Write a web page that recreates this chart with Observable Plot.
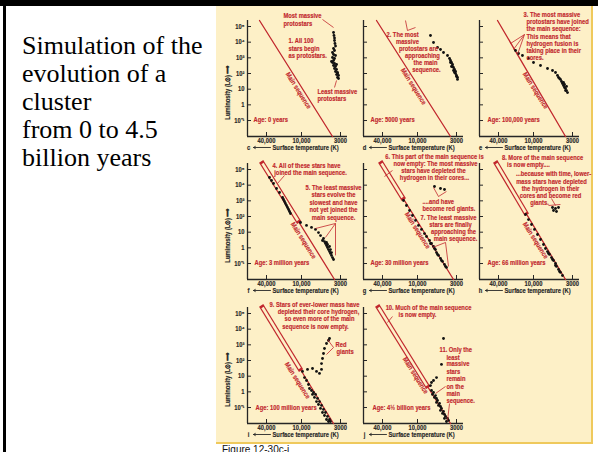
<!DOCTYPE html>
<html>
<head>
<meta charset="utf-8">
<script src="https://cdn.jsdelivr.net/npm/d3@7"></script>
<script src="https://cdn.jsdelivr.net/npm/@observablehq/plot@0.6"></script>
<style>
  html, body { margin: 0; padding: 0; background: #fff; }
  #slide { position: relative; width: 598px; height: 452px; overflow: hidden; background: #fff; }
  #topbar { position: absolute; left: 0; top: 0; width: 598px; height: 6px; background: #000; }
  #leftbar { position: absolute; left: 3px; top: 0; width: 3px; height: 452px; background: #000; }
  #title { position: absolute; left: 22px; top: 32px; font: 26px/28px "Liberation Serif", "Times New Roman", serif; color: #000; white-space: nowrap; }
  #fig { position: absolute; left: 216px; top: 6px; width: 377px; height: 438px; box-sizing: border-box;
         background: #fdf0c7; border-right: 2px solid #efc95c; border-bottom: 2px solid #efc95c; }
  #caption { position: absolute; left: 222px; top: 444px; font: 10px/12px "Liberation Sans", Arial, sans-serif; color: #111; }
  .panel { position: absolute; width: 150px; height: 160px; }
  .panel svg { overflow: visible; }
</style>
</head>
<body>
<div id="slide">
  <div id="topbar"></div>
  <div id="leftbar"></div>
  <div id="title">Simulation of the<br>evolution of a<br>cluster<br>from 0 to 4.5<br>billion years</div>
  <div id="fig"></div>
  <div id="caption">Figure 12-30c-j</div>
</div>
<script>
// ---------- data ----------
const panelLetters = ["c", "d", "e", "f", "g", "h", "i", "j"];
const xTicks = [40000, 10000, 3000];
const xTickLabels = ["40,000", "10,000", "3000"];
const yTicks = [1e5, 1e4, 1e3, 100, 10, 1, 0.1];
const yTickLabels = ["10\u2075", "10\u2074", "10\u00B3", "10\u00B2", "10", "1", "10\u207B\u00B9"];
const xDomain = [85000, 40000, 10000, 3000, 2415];
const lumTop = 241500, lumBottom = 0.00955;

// main-sequence line: temperature at top and bottom of each panel
const msTopT = [52800, 50750, 41600, 46900, 41600, 43400, 46900, 46900];
const msBottomT = [3840, 3610, 3720, 3610, 3290, 3720, 3720, 3610];
// where the empty (outlined) part of the main sequence ends
const bandEnd = [null, null, null, [11530, 55.6], [18100, 1630], [13700, 180], [10700, 31], [7480, 2.5]];
// "Main sequence" label anchor
const msLabel = [[11270, 8.2], [11720, 15], [9400, 8.2], [9400, 2.95], [10000, 12.8], [9400, 2.95], [11720, 5.3], [10830, 11]];

// stars: [surface temperature K, luminosity Lsun]
const starsC = [[3720,41400],[3670,26700],[3610,18500],[3610,12800],[3560,8220],[3500,5700],
  [3720,3950],[3610,2940],[3840,2190],[3720,1630],[3500,1410],[3840,1050],[3610,908],[3720,677],[3840,504],
  [3610,435],[3720,324],[3500,280],[3610,209],[3390,180],[3500,134],[3290,116],[3390,86],[3190,75],[3290,56],
  [3190,48],[3960,584],[3390,376],[3290,100]];
const starsD = [[6700,26700],[6100,9530],[5390,4570],[4920,3410],[4480,2190],[3960,1410],
  [3720,908],[3610,677],[3500,504],[3390,376],[3500,280],[3290,242],[3190,180],[3090,134],[3090,100],[3000,75],
  [2910,56],[2910,42],[3610,504],[3390,280],[3290,156],[3190,116],[3000,64]];
const starsE = [[20400,2940],[18100,1890],[15500,1410],[12200,908],[10000,504],[8060,324],[6490,209],[5560,156],[5070,116],
  [4770,75],[4620,56],[4350,42],[4210,31],[4090,23],[3960,17],[3840,12.8],[3720,11],[3610,8.2],[3500,6.1],
  [3610,15],[3960,27],[4480,48],[3840,20],[3720,8.2]];
const starsF = [[35500,30800],[32800,19900],[30300,12800],[26900,6130],[23900,3410],
  [21200,1630],[20400,1220],[19600,908],[18900,677],[18100,504],[17400,376],[16700,280],[16100,209],[15500,156],
  [10400,41.5],[8570,27],[7340,20],[6490,15],[5920,9.5],[5560,6.1],
  [5230,2.95],[5070,3.95],[4920,2.5],[4770,1.9],[4620,1.4],[4620,2.2],[4480,1.05],[4480,1.64],[4350,0.78],
  [4210,0.58],[4210,1.22],[4090,0.44],[4090,0.78],[3960,0.33],[3960,0.5],[3840,0.24],[3720,0.18]];
const starsG = [[17400,1050],[15500,504],[13700,242],[12200,116],[10800,56],[9700,27],[8840,15],[8060,8.2],[7570,5.3],
  [6900,2.95],[6700,1.9],[6490,1.9],[6100,1.22],[5920,0.91],[5740,0.78],[5560,0.5],[5390,0.38],[5230,0.33],
  [4920,0.21],[4770,0.156],[4620,0.135],[4350,0.087],[4210,0.065],[4090,0.056],
  [5920,8220],[4350,5290],[4920,6130]];
const starsH = [[13700,134],[12200,64],[10800,31],[9700,15],[8840,7.1],[8060,3.4],[7340,1.64],[6900,0.91],
  [6490,0.58],[6290,0.44],[6100,0.38],[5740,0.24],[5560,0.18],[5390,0.156],[5070,0.1],[5070,0.075],[4920,0.065],
  [4620,0.042],[4480,0.031],[4350,0.027],[4090,0.0172],
  [5560,376],[5070,324],[4620,376],[4920,209],[5390,242]];
const starsI = [[9700,20],[8310,27],[7120,31],[6290,20],[5740,15],[5390,27],[5390,64],[5230,134],[5070,280],[4920,584],
  [4620,1220],[4350,1890],[4210,2540],[9120,8.2],[8570,5.3],[8060,2.95],
  [7810,1.64],[7340,1.22],[6900,0.91],[7120,0.68],[6490,0.68],[6700,0.44],[6100,0.38],[6290,0.24],[5740,0.24],
  [5920,0.156],[5390,0.135],[5560,0.087],[5070,0.075],[5230,0.048],[4770,0.048],[4920,0.031],[4480,0.027],
  [4620,0.0172],[4210,0.0172],[4090,0.0128],[4350,0.0128]];
const starsJ = [[4480,2540],[4770,56],[5560,8.2],[6100,5.3],[6490,3.95],[6700,2.5],
  [6490,1.22],[6100,0.91],[6290,0.68],[5740,0.58],[5920,0.44],[5560,0.38],[5390,0.28],[5560,0.21],[5070,0.18],
  [5230,0.135],[4920,0.116],[4770,0.087],[4920,0.065],[4480,0.056],[4620,0.042],[4350,0.036],[4210,0.027],
  [4350,0.02],[3960,0.02],[3840,0.0149],[4090,0.0128]];

// annotations: [text, T, L, anchor]
const notesC = [["Most massive",20400,503500,"start"],["protostars",20400,155400,"start"],
  ["1. All 100",16700,12800,"start"],["stars begin",16700,3950,"start"],["as protostars.",16700,1410,"start"],
  ["Least massive",6100,7.1,"start"],["protostars",6100,2.5,"start"],["Age: 0 years",67000,0.116,"start"]];
const notesD = [["2. The most",18100,30800,"middle"],["massive",14900,11040,"middle"],
  ["protostars are",9700,3950,"middle"],["approaching",8570,1410,"middle"],["the main",7810,504,"middle"],
  ["sequence.",7570,180,"middle"],["Age: 5000 years",64400,0.116,"start"]];
const notesE = [["3. The most massive",14900,583700,"start"],["protostars have joined",13200,208600,"start"],
  ["the main sequence:",13200,74500,"start"],["This means that",13200,23000,"start"],
  ["hydrogen fusion is",13200,8220,"start"],["taking place in their",13200,2940,"start"],
  ["cores.",13200,1050,"start"],["Age: 100,000 years",61850,0.116,"start"]];
const notesF = [["4. All of these stars have",8570,180000,"middle"],["joined the main sequence.",7570,64400,"middle"],
  ["5. The least massive",3720,7100,"middle"],["stars evolve the",3720,2540,"middle"],
  ["slowest and have",3720,783,"middle"],["not yet joined the",3720,280,"middle"],
  ["main sequence.",3720,86,"middle"],["Age: 3 million years",64400,0.116,"start"]];
const notesG = [["6. This part of the main sequence is",5920,676000,"middle"],["now empty: The most massive",5740,241500,"middle"],
  ["stars have depleted the",6100,86300,"middle"],["hydrogen in their cores...",5920,30800,"middle"],
  ["....and have",8570,908,"start"],["become red giants.",8570,324,"start"],
  ["7. The least massive",3840,86,"middle"],["stars are finally",3610,31,"middle"],
  ["approaching the",3290,11,"middle"],["main sequence.",3090,3.95,"middle"],
  ["Age: 30 million years",64400,0.116,"start"]];
const notesH = [["8. More of the main sequence",7570,583700,"middle"],["is now empty....",12200,208600,"middle"],
  ["...because with time, lower-",5390,55500,"middle"],["mass stars have depleted",5740,17100,"middle"],
  ["the hydrogen in their",5920,6130,"middle"],["cores and become red",5920,2190,"middle"],
  ["giants.",8310,783,"middle"],["Age: 66 million years",61850,0.116,"start"]];
const notesI = [["9. Stars of ever-lower mass have",6700,375000,"middle"],["depleted their core hydrogen,",5920,134200,"middle"],
  ["so even more of the main",5740,47960,"middle"],["sequence is now empty.",6490,14800,"middle"],
  ["Red",3500,1050,"start"],["giants",3390,376,"start"],["Age: 100 million years",61850,0.1,"start"]];
const notesJ = [["10. Much of the main sequence",7120,241500,"middle"],["is now empty.",10000,86300,"middle"],
  ["11. Only the",5070,504,"start"],["least",4090,156,"start"],["massive",4090,64,"start"],
  ["stars",4090,20,"start"],["remain",4090,7.1,"start"],["on the",4090,2.2,"start"],
  ["main",4090,0.78,"start"],["sequence.",4090,0.28,"start"],["Age: 4\u00BD billion years",59400,0.1,"start"]];

// pointer lines: [T1, L1, T2, L2]
const ptrC = [[5230,279800,3720,86300],[3390,36,3610,12.8]];
const ptrD = [[14870,55500,16090,241500],[14870,55500,10830,86300]];
const ptrE = [[14290,30800,24880,8220],[14290,30800,22090,3410],[14290,30800,18850,1630]];
const ptrF = [[19620,41400,25880,12800],[3500,36,6490,17.2],[3500,36,4770,4.6],[3500,36,3500,0.33]];
const ptrG = [[26930,86300,36970,35700],[5230,1890,6100,7100],[5230,1890,4090,3950],[4210,2.2,6290,1.05],[4210,2.2,3840,0.065]];
const ptrH = [[5740,1410,5070,504],[6290,504,4350,584]];
const ptrI = [[3720,677,4480,2190],[3720,677,4620,242]];
const ptrJ = [[26930,64400,32830,26660],[4210,2.2,5740,0.78],[3720,0.18,3960,0.0149]];

const allStars = [starsC, starsD, starsE, starsF, starsG, starsH, starsI, starsJ];
const allNotes = [notesC, notesD, notesE, notesF, notesG, notesH, notesI, notesJ];
const allPtrs = [ptrC, ptrD, ptrE, ptrF, ptrG, ptrH, ptrI, ptrJ];

// ---------- layout / style ----------
const FONT = '"Liberation Sans Narrow","Arial Narrow","Liberation Sans",Arial,sans-serif';
const RED = "#c1272d", INK = "#262626", BG = "#fdf0c7";
const SQUEEZE = 0.83; // the figure uses a condensed face
const ML = 34, MR = 16, MT = 22, MB = 22, FW = 100, FH = 116;
const xRange = [ML, ML + 19, ML + 54, ML + 93, ML + FW];
const colLeft = [213, 329, 445], rowTop = [-2, 141, 285];
const tickLabelLum = 0.005, axisLabelLum = 0.0019;
const txt = {fontFamily: FONT, fontWeight: "bold", fontSize: 7, strokeWidth: 0.15};

function condense(svg) {
  svg.querySelectorAll("text").forEach(t => {
    let tr = t.getAttribute("transform");
    if (!tr) {
      const x = t.getAttribute("x"), y = t.getAttribute("y");
      tr = `translate(${x || 0},${y || 0})`;
      t.removeAttribute("x"); t.removeAttribute("y");
    }
    t.setAttribute("transform", tr + ` scale(${SQUEEZE},1)`);
  });
}

function drawPanel(i) {
  const col = i % 3, row = Math.floor(i / 3);
  const inkTxt = {...txt, fill: INK, stroke: INK};
  const redTxt = {...txt, fill: RED, stroke: RED};
  const marks = [
    Plot.ruleX([xDomain[0]], {stroke: INK, strokeWidth: 1.3}),
    Plot.ruleY([lumBottom], {stroke: INK, strokeWidth: 1.3}),
    Plot.tickY(yTicks, {y: d => d, insetRight: FW - 4, stroke: INK}),
    Plot.tickX(xTicks, {x: d => d, insetTop: FH - 4, stroke: INK}),
    Plot.text(xTicks, {x: d => d, y: () => tickLabelLum, text: (d, j) => xTickLabels[j], ...inkTxt}),
    Plot.text([panelLetters[i]], {x: () => 81600, y: () => axisLabelLum, text: d => d, ...inkTxt}),
    Plot.arrow([0], {x1: () => 34160, x2: () => 67000, y1: () => axisLabelLum, y2: () => axisLabelLum,
      stroke: INK, strokeWidth: 0.9, headLength: 3.5}),
    Plot.text(["Surface temperature (K)"], {x: () => 31550, y: () => axisLabelLum, text: d => d,
      textAnchor: "start", ...inkTxt}),
    Plot.line([[msTopT[i], lumTop], [msBottomT[i], lumBottom]], {x: d => d[0], y: d => d[1], stroke: RED, strokeWidth: 1.3})
  ];
  if (bandEnd[i]) {
    const seg = [[msTopT[i], lumTop], bandEnd[i]];
    marks.push(Plot.line(seg, {x: d => d[0], y: d => d[1], stroke: RED, strokeWidth: 5, strokeLinecap: "square"}));
    marks.push(Plot.line(seg, {x: d => d[0], y: d => d[1], stroke: BG, strokeWidth: 2.6, strokeLinecap: "butt"}));
  }
  marks.push(
    Plot.text([msLabel[i]], {x: d => d[0], y: d => d[1], text: () => "Main sequence", rotate: 58, ...redTxt}),
    Plot.dot(allStars[i], {x: d => d[0], y: d => d[1], r: 1.4, fill: "#111", stroke: "none"}),
    Plot.link(allPtrs[i], {x1: d => d[0], y1: d => d[1], x2: d => d[2], y2: d => d[3], stroke: RED, strokeWidth: 0.8}),
    Plot.text(allNotes[i].filter(d => d[3] === "start"), {x: d => d[1], y: d => d[2], text: d => d[0], textAnchor: "start", ...redTxt}),
    Plot.text(allNotes[i].filter(d => d[3] === "middle"), {x: d => d[1], y: d => d[2], text: d => d[0], textAnchor: "middle", ...redTxt})
  );
  if (col === 0) {
    marks.push(
      Plot.text(yTicks, {x: () => 95700, y: d => d, text: (d, j) => yTickLabels[j], textAnchor: "end", ...inkTxt}),
      Plot.text(["Luminosity (L\u2299) \u27F6"], {x: () => 187500, y: () => 6.1, text: d => d, rotate: -90, ...inkTxt})
    );
  }
  const svg = Plot.plot({
    width: ML + FW + MR, height: MT + FH + MB,
    marginLeft: ML, marginRight: MR, marginTop: MT, marginBottom: MB,
    style: {background: "transparent", overflow: "visible", fontFamily: FONT},
    x: {type: "log", domain: xDomain, range: xRange, axis: null},
    y: {type: "log", domain: [lumBottom, lumTop], axis: null},
    marks
  });
  condense(svg);
  const wrap = document.createElement("div");
  wrap.className = "panel";
  wrap.style.left = colLeft[col] + "px";
  wrap.style.top = rowTop[row] + "px";
  wrap.appendChild(svg);
  document.getElementById("slide").appendChild(wrap);
}
for (let i = 0; i < panelLetters.length; i++) drawPanel(i);
</script>
</body>
</html>
